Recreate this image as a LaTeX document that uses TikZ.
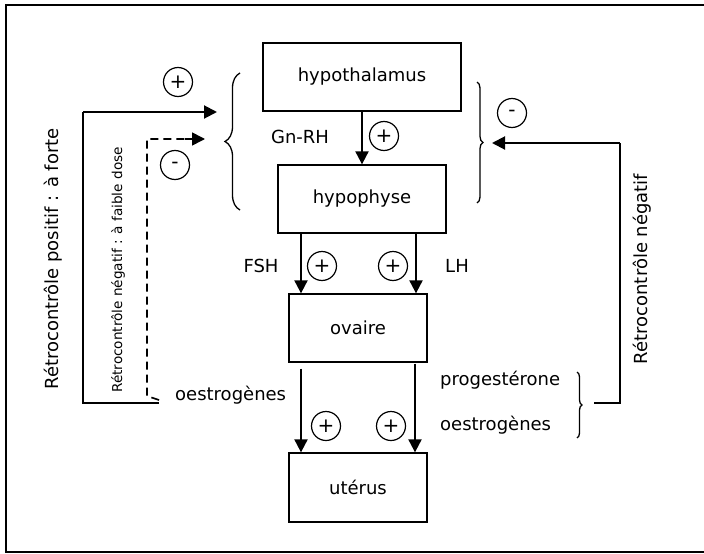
\documentclass[tikz,border=0pt]{standalone}
\usepackage{fontspec}
\setmainfont{DejaVu Sans}
\usetikzlibrary{arrows.meta,decorations.pathreplacing}
\begin{document}
\begin{tikzpicture}[x=1pt,y=-1pt,
  font=\fontsize{18}{21}\selectfont,
  organ/.style={draw,line width=1.3pt,inner sep=0pt,align=center},
  sign/.style={draw,circle,line width=1.2pt,minimum size=29pt,inner sep=0pt,font=\fontsize{20}{20}\selectfont},
  arr/.style={line width=2pt,-{Triangle[length=13pt,width=13pt]}},
  fb/.style={line width=2pt},
  brc/.style={line width=1.3pt,decorate,decoration={brace,amplitude=#1}},
  lbl/.style={inner sep=0pt}
]
\useasboundingbox (0,0) rectangle (704,554);
\draw[line width=2pt] (705,5) -- (6,5) -- (6,552) -- (705,552);

% organs
\node[organ,minimum width=198pt,minimum height=68pt] (hyp) at (362,77) {hypothalamus};
\node[organ,minimum width=168pt,minimum height=68pt] (hypo) at (362,199) {hypophyse};
\node[organ,minimum width=138pt,minimum height=68pt] (ov) at (358,328) {ovaire};
\node[organ,minimum width=138pt,minimum height=69pt] (ut) at (358,487.5) {utérus};

% labels
\node[lbl] (gnrh) at (300,137) {Gn-RH};
\node[lbl] (fsh) at (261,266) {FSH};
\node[lbl] (lh) at (457,266) {LH};
\node[lbl,anchor=west] (oesL) at (175,395) {oestrogènes};
\node[lbl,anchor=west] (prog) at (440,380) {progestérone};
\node[lbl,anchor=west] (oesR) at (440,425) {oestrogènes};
\node[lbl,rotate=90] (pos) at (53,259) {Rétrocontrôle positif : à forte};
\node[lbl,rotate=90,font=\fontsize{13.6}{16}\selectfont] (neg) at (118,270) {Rétrocontrôle négatif : à faible dose};
\node[lbl,rotate=90] (negR) at (642,269) {Rétrocontrôle négatif};

% signs
\node[sign] (s1) at (178,82) {+};
\node[sign] (s2) at (175,165) {-};
\node[sign] (s3) at (384,136) {+};
\node[sign] (s4) at (512,113) {-};
\node[sign] (s5) at (322,266) {+};
\node[sign] (s6) at (393,266) {+};
\node[sign] (s7) at (326,426) {+};
\node[sign] (s8) at (391,426) {+};

% axis coordinates
\coordinate (xl) at (301,0);
\coordinate (xr) at (416,0);
\coordinate (xr2) at (415,0);

% main arrows
\draw[arr] (hyp.south) -- (hypo.north);
\draw[arr] (hypo.south -| xl) -- (ov.north -| xl);
\draw[arr] (hypo.south -| xr) -- (ov.north -| xr);
\draw[arr,shorten <=6pt] (ov.south -| xl) -- (ut.north -| xl);
\draw[arr,shorten <=1pt] (ov.south -| xr2) -- (ut.north -| xr2);

% braces
\draw[brc=15pt] (240,210) -- (240,73);
\draw[brc=6pt] (477,82) -- (477,203);
\draw[brc=5pt] (577,372) -- (577,438);
\coordinate (bst) at (594,403);

% feedback loops
\coordinate (pstart) at (159,403);
\coordinate (pc1) at (83,403);
\coordinate (pc2) at (83,112);
\coordinate (pend) at (217,112);
\draw[fb] (pstart) -- (pc1) -- (pc2);
\draw[arr] (pc2) -- (pend);

\coordinate (dstart) at (159,400);
\coordinate (dc1) at (147,396);
\coordinate (dc2) at (147,139);
\coordinate (dmid) at (185,139);
\coordinate (dend) at (205,139);
\draw[line width=1.6pt,dash pattern=on 8pt off 5pt] (dstart) -- (dc1) -- (dc2) -- (dmid);
\draw[line width=1.6pt,-{Triangle[length=13pt,width=13pt]}] (dmid) -- (dend);

\coordinate (rc1) at (620,403);
\coordinate (rc2) at (620,143);
\coordinate (rend) at (492,143);
\draw[fb] (bst) -- (rc1) -- (rc2);
\draw[arr] (rc2) -- (rend);
\end{tikzpicture}
\end{document}
